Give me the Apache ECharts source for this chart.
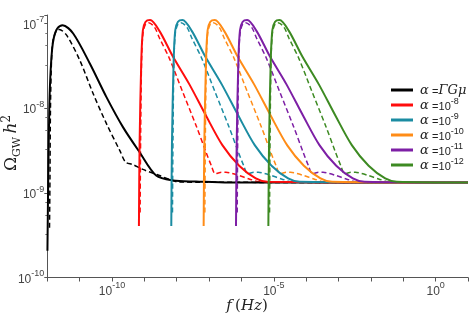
<!DOCTYPE html>
<html><head><meta charset="utf-8">
<script src="https://cdn.jsdelivr.net/npm/echarts@6/dist/echarts.min.js"></script>
<style>html,body{margin:0;padding:0;background:#fff}#c{width:471px;height:319px}</style>
</head><body><div id="c"></div>
<script>
// ---- data (f in Hz, Omega_GW h^2) ----
const fBlackSolid = [1.01e-12, 1.07e-12, 1.15e-12, 1.24e-12, 1.40e-12, 1.61e-12, 2.03e-12, 2.98e-12, 6.31e-12, 2.06e-11, 6.73e-11, 2.18e-10, 7.11e-10, 2.32e-9, 7.53e-9, 3.95e-8, 4.19e-7, 10];
const oBlackSolid = [2.07e-10, 1.53e-9, 9.42e-9, 2.33e-8, 4.83e-8, 6.93e-8, 8.73e-8, 9.55e-8, 7.62e-8, 3.37e-8, 1.35e-8, 5.97e-9, 3.02e-9, 1.60e-9, 1.40e-9, 1.36e-9, 1.32e-9, 1.32e-9];
const fBlackDashed = [1.17e-12, 1.21e-12, 1.25e-12, 1.35e-12, 1.50e-12, 1.95e-12, 2.34e-12, 3.95e-12, 1.01e-11, 2.60e-11, 6.73e-11, 1.73e-10, 2.64e-10, 4.34e-10, 8.99e-10, 2.94e-9, 5.96e-9, 1.21e-8, 10];
const oBlackDashed = [3.88e-10, 1.56e-9, 9.42e-9, 3.68e-8, 6.34e-8, 8.34e-8, 8.49e-8, 7.28e-8, 3.68e-8, 1.49e-8, 6.56e-9, 3.17e-9, 2.30e-9, 2.16e-9, 1.89e-9, 1.60e-9, 1.44e-9, 1.34e-9, 1.32e-9];

// coloured curves (alpha = 1e-8 ... 1e-12): same shape, read at these heights
const oAlphaSolid = [4.07e-10, 3.80e-9, 3.72e-8, 8.32e-8, 1.05e-7, 1.10e-7, 8.13e-8, 4.10e-8, 1.91e-8, 8.13e-9, 3.63e-9, 2.09e-9, 1.48e-9, 1.35e-9, 1.32e-9];
const oAlphaDashed = [5.85e-10, 4.16e-9, 3.68e-8, 7.89e-8, 9.82e-8, 1.02e-7, 9.04e-8, 6.70e-8, 3.85e-8, 1.55e-8, 6.25e-9, 3.02e-9, 2.10e-9, 1.68e-9, 1.74e-9, 1.75e-9, 1.69e-9, 1.60e-9, 1.46e-9, 1.34e-9, 1.32e-9];

const fRedSolid    = [6.78e-10, 7.11e-10, 8.04e-10, 8.99e-10, 1.09e-9, 1.50e-9, 2.94e-9, 7.53e-9, 2.46e-8, 8.04e-8, 2.60e-7, 8.49e-7, 2.77e-6, 6.31e-6, 10];
const fTealSolid   = [6.78e-9, 7.11e-9, 8.04e-9, 8.99e-9, 1.09e-8, 1.50e-8, 2.94e-8, 7.53e-8, 2.46e-7, 8.04e-7, 2.60e-6, 8.49e-6, 2.77e-5, 6.31e-5, 10];
const fOrangeSolid = [6.78e-8, 7.11e-8, 8.04e-8, 8.99e-8, 1.09e-7, 1.50e-7, 2.94e-7, 7.53e-7, 2.46e-6, 8.04e-6, 2.60e-5, 8.49e-5, 2.77e-4, 6.31e-4, 10];
const fPurpleSolid = [6.78e-7, 7.11e-7, 8.04e-7, 8.99e-7, 1.09e-6, 1.50e-6, 2.94e-6, 7.53e-6, 2.46e-5, 8.04e-5, 2.60e-4, 8.49e-4, 2.77e-3, 6.31e-3, 10];
const fGreenSolid  = [6.78e-6, 7.11e-6, 8.04e-6, 8.99e-6, 1.09e-5, 1.50e-5, 2.94e-5, 7.53e-5, 2.46e-4, 8.04e-4, 2.60e-3, 8.49e-3, 2.77e-2, 6.31e-2, 10];

const fRedDashed    = [7.38e-10, 7.64e-10, 8.20e-10, 9.12e-10, 1.09e-9, 1.35e-9, 2.06e-9, 2.94e-9, 5.96e-9, 1.53e-8, 3.95e-8, 8.04e-8, 1.17e-7, 1.55e-7, 2.21e-7, 3.31e-7, 5.18e-7, 8.49e-7, 1.73e-6, 4.04e-6, 10];
const fTealDashed   = [7.38e-9, 7.64e-9, 8.20e-9, 9.12e-9, 1.09e-8, 1.35e-8, 2.06e-8, 2.94e-8, 5.96e-8, 1.53e-7, 3.95e-7, 8.04e-7, 1.17e-6, 1.55e-6, 2.21e-6, 3.31e-6, 5.18e-6, 8.49e-6, 1.73e-5, 4.04e-5, 10];
const fOrangeDashed = [7.38e-8, 7.64e-8, 8.20e-8, 9.12e-8, 1.09e-7, 1.35e-7, 2.06e-7, 2.94e-7, 5.96e-7, 1.53e-6, 3.95e-6, 8.04e-6, 1.17e-5, 1.55e-5, 2.21e-5, 3.31e-5, 5.18e-5, 8.49e-5, 1.73e-4, 4.04e-4, 10];
const fPurpleDashed = [7.38e-7, 7.64e-7, 8.20e-7, 9.12e-7, 1.09e-6, 1.35e-6, 2.06e-6, 2.94e-6, 5.96e-6, 1.53e-5, 3.95e-5, 8.04e-5, 1.17e-4, 1.55e-4, 2.21e-4, 3.31e-4, 5.18e-4, 8.49e-4, 1.73e-3, 4.04e-3, 10];
const fGreenDashed  = [7.38e-6, 7.64e-6, 8.20e-6, 9.12e-6, 1.09e-5, 1.35e-5, 2.06e-5, 2.94e-5, 5.96e-5, 1.53e-4, 3.95e-4, 8.04e-4, 1.17e-3, 1.55e-3, 2.21e-3, 3.31e-3, 5.18e-3, 8.49e-3, 1.73e-2, 4.04e-2, 10];

const legendNames = ['ΓGμ', '-8', '-9', '-10', '-11', '-12'];
const xLabelExponents = [-10, -5, 0];
const yLabelExponents = [-10, -9, -8, -7];
const xRange = [1e-12, 10];
const yRange = [1e-10, 1.26e-7];

// ---- build ----
const colors = ['#000000', '#ff0d0d', '#1b8ca2', '#ff8c17', '#7d1fa5', '#3d8a22'];
const solidF = [fBlackSolid, fRedSolid, fTealSolid, fOrangeSolid, fPurpleSolid, fGreenSolid];
const dashedF = [fBlackDashed, fRedDashed, fTealDashed, fOrangeDashed, fPurpleDashed, fGreenDashed];
const solidO = [oBlackSolid, oAlphaSolid, oAlphaSolid, oAlphaSolid, oAlphaSolid, oAlphaSolid];
const dashedO = [oBlackDashed, oAlphaDashed, oAlphaDashed, oAlphaDashed, oAlphaDashed, oAlphaDashed];
const zip = (a, b) => a.map((v, i) => [v, b[i]]);

const series = [];
for (let i = 0; i < 6; i++) {
  series.push({
    name: legendNames[i] + ' dashed', type: 'line', showSymbol: false, symbol: 'none',
    smooth: 0.3, data: zip(dashedF[i], dashedO[i]),
    lineStyle: { color: colors[i], width: 1.5, type: [5, 3] }, itemStyle: { color: colors[i] },
    z: 2, silent: true
  });
  series.push({
    name: legendNames[i], type: 'line', showSymbol: false, symbol: 'none',
    smooth: 0.3, data: zip(solidF[i], solidO[i]),
    lineStyle: { color: colors[i], width: 2 }, itemStyle: { color: colors[i] },
    z: 3, silent: true
  });
}

const expOf = v => Math.log10(v);
const isPow = (v, list) => { const e = expOf(v); const r = Math.round(e); return Math.abs(e - r) < 1e-6 && list.indexOf(r) >= 0 ? r : null; };
const supRich = {
  b: { fontFamily: 'Liberation Sans', fontSize: 12, color: '#444', verticalAlign: 'bottom', lineHeight: 16 },
  s: { fontFamily: 'Liberation Sans', fontSize: 9, color: '#444', verticalAlign: 'top', lineHeight: 16 }
};

const chart = echarts.init(document.getElementById('c'), null, { renderer: 'canvas' });
chart.setOption({
  animation: false,
  backgroundColor: '#fff',
  grid: { left: 47.3, right: 1, top: 15, bottom: 41.5, containLabel: false },
  xAxis: {
    type: 'log', min: xRange[0], max: xRange[1], interval: 1, logBase: 10,
    axisLine: { lineStyle: { color: '#555', width: 1 } },
    axisTick: { show: true, length: 4, lineStyle: { color: '#555' } },
    splitLine: { show: false },
    axisLabel: {
      margin: 4,
      formatter: v => { const r = isPow(v, xLabelExponents); return r === null ? '' : '{b|10}{s|' + r + '}'; },
      rich: supRich
    }
  },
  yAxis: {
    type: 'log', min: yRange[0], max: yRange[1], interval: 1, logBase: 10,
    axisLine: { show: true, lineStyle: { color: '#555', width: 1 } },
    axisTick: { show: true, length: 3, lineStyle: { color: '#555' } },
    minorTick: { show: true, splitNumber: 4, length: 2, lineStyle: { color: '#777' } },
    splitLine: { show: false },
    axisLabel: {
      margin: 3,
      formatter: v => { const r = isPow(v, yLabelExponents); return r === null ? '' : '{b|10}{s|' + r + '}'; },
      rich: supRich
    }
  },
  legend: {
    data: legendNames, orient: 'vertical', left: 386, top: 79,
    icon: 'rect', itemWidth: 22, itemHeight: 3, itemGap: 0,
    formatter: n => n === 'ΓGμ'
      ? '{a|α} {e|=}{g|ΓGμ}'
      : '{a|α} {e|=10}{s|' + n + '}',
    textStyle: {
      padding: [0, 0, 0, 2],
      rich: {
        a: { fontFamily: 'DejaVu Serif', fontStyle: 'italic', fontSize: 13, color: '#222', verticalAlign: 'bottom', lineHeight: 15 },
        e: { fontFamily: 'Liberation Sans', fontSize: 11, color: '#222', verticalAlign: 'bottom', lineHeight: 15 },
        g: { fontFamily: 'DejaVu Serif', fontStyle: 'italic', fontSize: 13, color: '#222', verticalAlign: 'bottom', lineHeight: 15 },
        s: { fontFamily: 'Liberation Sans', fontSize: 9, color: '#222', verticalAlign: 'top', lineHeight: 15 }
      }
    }
  },
  graphic: [
    {
      type: 'text', x: 12, y: 143, rotation: Math.PI / 2,
      style: {
        text: '{o|Ω}{g|GW} {h|h}{t|2}', align: 'center', verticalAlign: 'middle',
        rich: {
          o: { fontFamily: 'DejaVu Serif', fontSize: 17, fill: '#222', verticalAlign: 'middle', lineHeight: 22 },
          g: { fontFamily: 'DejaVu Serif', fontSize: 11, fill: '#222', verticalAlign: 'bottom', lineHeight: 22 },
          h: { fontFamily: 'DejaVu Serif', fontStyle: 'italic', fontSize: 17, fill: '#222', verticalAlign: 'middle', lineHeight: 22 },
          t: { fontFamily: 'DejaVu Serif', fontSize: 12, fill: '#222', verticalAlign: 'top', lineHeight: 22 }
        }
      }
    },
    {
      type: 'text', x: 247, y: 306,
      style: {
        text: '{i|f} {r|(}{i|Hz}{r|)}', align: 'center', verticalAlign: 'middle',
        rich: {
          i: { fontFamily: 'DejaVu Serif', fontStyle: 'italic', fontSize: 15, fill: '#222' },
          r: { fontFamily: 'DejaVu Serif', fontSize: 15, fill: '#222' }
        }
      }
    }
  ],
  series: series
});
</script>
</body></html>
